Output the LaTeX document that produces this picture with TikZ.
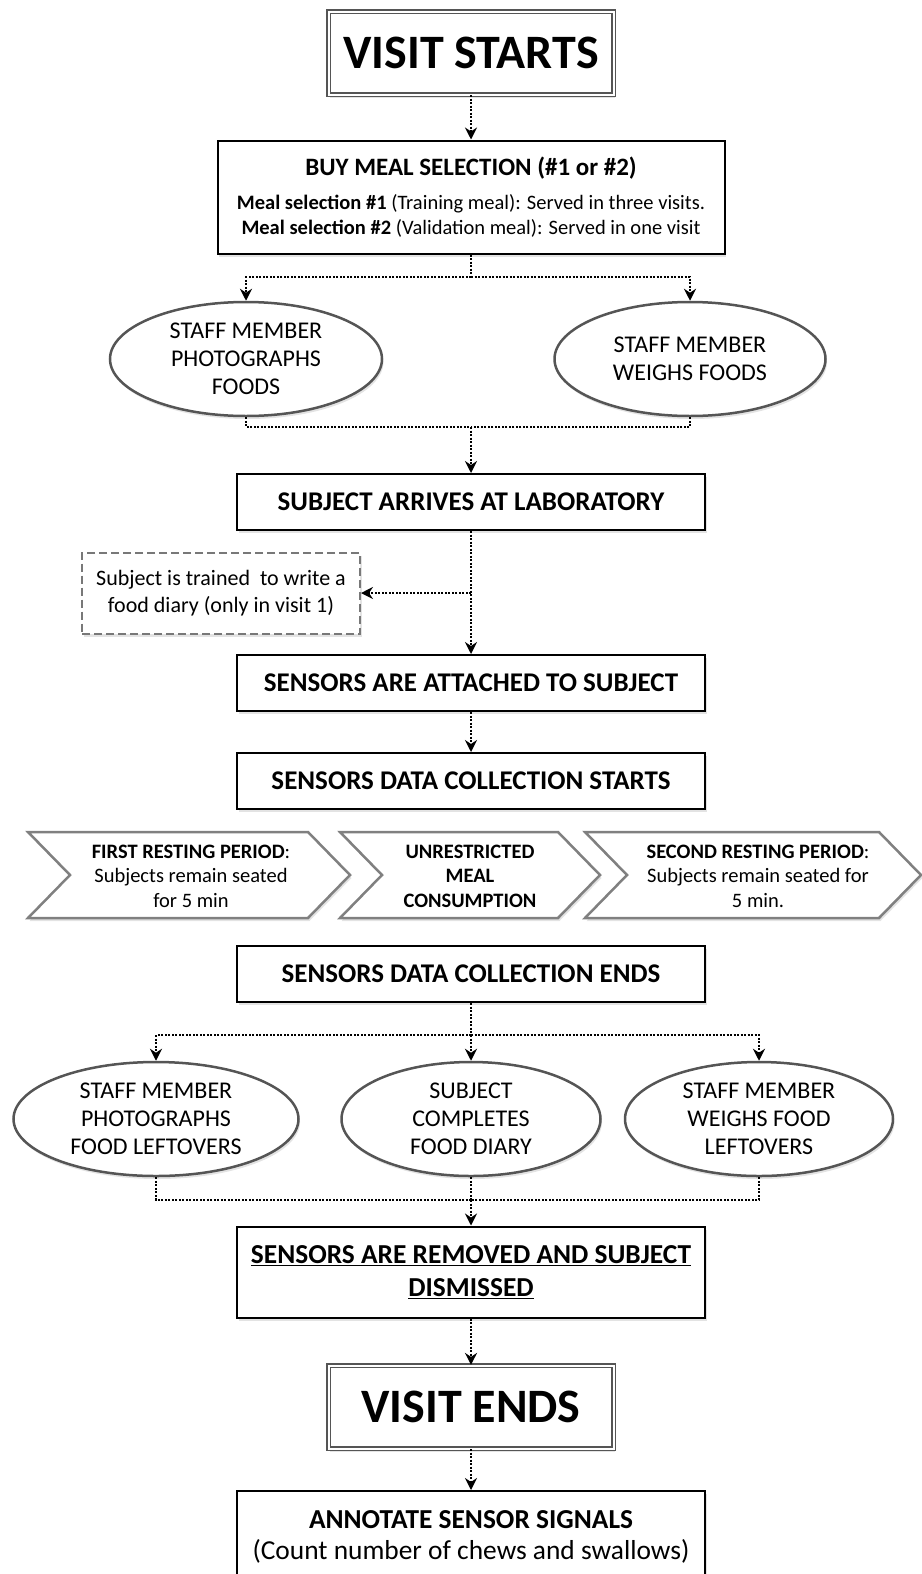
\documentclass[tikz,border=0pt]{standalone}
\usepackage{fontspec}
\setmainfont{Carlito}
\usetikzlibrary{arrows.meta,shapes.geometric,shadows}
\definecolor{FrameGray}{RGB}{85,85,85}
\definecolor{PhaseGray}{RGB}{128,128,128}
\definecolor{DashGray}{RGB}{120,120,120}

\tikzset{
  softshadow/.style={drop shadow={shadow xshift=1.5pt,shadow yshift=-3pt,opacity=.22}},
  stepbox/.style={draw=black,line width=2pt,fill=white,minimum width=468pt,minimum height=56pt,
    align=center,font=\bfseries\fontsize{27}{31}\selectfont,softshadow},
  endbox/.style={draw=FrameGray,double=white,double distance=2pt,line width=1.2pt,fill=white,
    minimum width=285pt,minimum height=83pt,font=\bfseries\fontsize{48}{50}\selectfont,softshadow},
  taskoval/.style={ellipse,draw=FrameGray,line width=2.5pt,fill=white,inner sep=0pt,
    minimum height=114pt,align=center,font=\fontsize{24}{28}\selectfont,softshadow},
  notebox/.style={draw=DashGray,dash pattern=on 8pt off 4pt,line width=2pt,fill=white,
    minimum width=278pt,minimum height=81pt,align=center,font=\fontsize{22}{27}\selectfont,softshadow},
  phase/.style={draw=PhaseGray,line width=2.5pt,fill=white,line join=miter,softshadow},
  phasetext/.style={align=center,font=\fontsize{20.5}{24.5}\selectfont},
  link/.style={line width=2pt,dash pattern=on 2pt off 1.5pt},
  flow/.style={link,-{Stealth[length=12pt,width=12pt,inset=4pt]}}
}

\begin{document}
\begin{tikzpicture}[x=1pt,y=-1pt]
  \useasboundingbox (0,0) rectangle (921,1574);

  % start and meal purchase
  \node[endbox] (start) at (471,53) {VISIT STARTS};
  \node[stepbox,minimum width=507pt,minimum height=113pt,font=\fontsize{25}{25}\selectfont] (buy) at (471,197)
    {\textbf{BUY MEAL SELECTION (\#1 or \#2)}\\[9pt]
     {\fontsize{20.5}{25}\selectfont\textbf{Meal selection \#1} (Training meal): Served in three visits.}\\
     {\fontsize{20.5}{25}\selectfont\textbf{Meal selection \#2} (Validation meal): Served in one visit}};
  \node[taskoval,minimum width=272pt] (photo) at (246,359) {STAFF MEMBER\\PHOTOGRAPHS\\FOODS};
  \node[taskoval,minimum width=271pt] (weigh) at (690,359) {STAFF MEMBER\\WEIGHS FOODS};

  % arrival and sensors
  \node[stepbox] (arrive) at (471,502) {SUBJECT ARRIVES AT LABORATORY};
  \node[notebox] (diary) at (221,593) {Subject is trained\ \ to write a\\food diary (only in visit 1)};
  \node[stepbox] (attach) at (471,683) {SENSORS ARE ATTACHED TO SUBJECT};
  \node[stepbox] (begin) at (471,781) {SENSORS DATA COLLECTION STARTS};

  % protocol phases
  \foreach \l/\r in {28/350, 340/600, 585/921}
    \draw[phase] (\l,832) -- (\r-42,832) -- (\r,875) -- (\r-42,918) -- (\l,918) -- (\l+42,875) -- cycle;
  \node[phasetext] (rest1) at (191,876) {\textbf{FIRST RESTING PERIOD}:\\Subjects remain seated\\for 5 min};
  \node[phasetext] (meal) at (470,876) {\textbf{UNRESTRICTED}\\\textbf{MEAL}\\\textbf{CONSUMPTION}};
  \node[phasetext] (rest2) at (758,876) {\textbf{SECOND RESTING PERIOD}:\\Subjects remain seated for\\5 min.};

  % after the meal
  \node[stepbox] (stop) at (471,974) {SENSORS DATA COLLECTION ENDS};
  \node[taskoval,minimum width=285pt] (leftpic) at (156,1119) {STAFF MEMBER\\PHOTOGRAPHS\\FOOD LEFTOVERS};
  \node[taskoval,minimum width=259pt] (fill) at (471,1119) {SUBJECT\\COMPLETES\\FOOD DIARY};
  \node[taskoval,minimum width=268pt] (leftkg) at (759,1119) {STAFF MEMBER\\WEIGHS FOOD\\LEFTOVERS};
  \node[stepbox,minimum height=91pt,font=\bfseries\fontsize{27.4}{33}\selectfont] (remove) at (471,1272)
    {\underline{SENSORS ARE REMOVED AND SUBJECT}\\\underline{DISMISSED}};
  \node[endbox] (finish) at (471,1407) {VISIT ENDS};
  \node[stepbox,anchor=north,inner ysep=20pt,font=\fontsize{27.4}{31}\selectfont] (annot) at (471,1490)
    {\textbf{ANNOTATE SENSOR SIGNALS}\\(Count number of chews and swallows)\\ \\};

  % branch and join points
  \coordinate (split1) at (471,277);
  \coordinate (join1) at (471,427);
  \coordinate (tap) at (arrive.south |- diary.east);
  \coordinate (split2) at (471,1035);
  \coordinate (join2) at (471,1200);

  % connectors
  \draw[flow] (start) -- (buy);
  \draw[link] (buy) -- (split1);
  \draw[flow] (split1) -| (photo.north);
  \draw[flow] (split1) -| (weigh.north);
  \draw[link] (photo.south) |- (join1);
  \draw[link] (weigh.south) |- (join1);
  \draw[flow] (join1) -- (arrive.north);
  \draw[flow] (arrive) -- (attach);
  \draw[flow] (tap) -- (diary.east);
  \draw[flow] (attach) -- (begin);
  \draw[link] (stop) -- (split2);
  \draw[flow] (split2) -| (leftpic.north);
  \draw[flow] (split2) -- (fill.north);
  \draw[flow] (split2) -| (leftkg.north);
  \draw[link] (leftpic.south) |- (join2);
  \draw[link] (leftkg.south) |- (join2);
  \draw[link] (fill.south) -- (join2);
  \draw[flow] (join2) -- (remove.north);
  \draw[flow] (remove) -- (finish);
  \draw[flow] (finish) -- (annot);
\end{tikzpicture}
\end{document}
